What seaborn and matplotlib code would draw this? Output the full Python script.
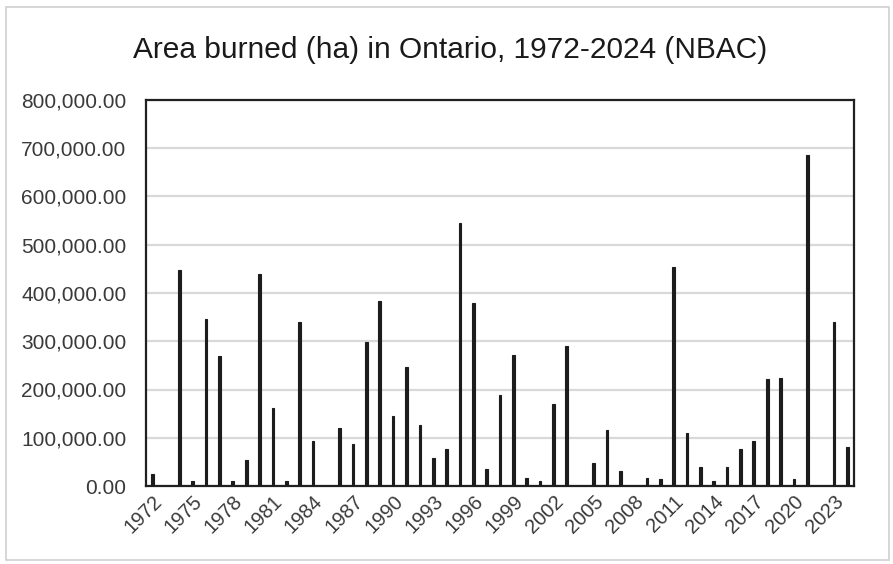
import matplotlib
matplotlib.use("Agg")
import matplotlib.pyplot as plt
from matplotlib.patches import Rectangle
from matplotlib.ticker import FuncFormatter, MultipleLocator
import matplotlib.transforms as mtransforms
import seaborn as sns
import pandas as pd

# Annual area burned in Ontario (hectares), NBAC
years = list(range(1972, 2025))
area_ha = [
    24000, 0, 448000, 10000, 347000, 270000, 10000, 54000, 439000, 162000,
    10000, 339000, 94000, 0, 121000, 88000, 299000, 384000, 146000, 246000,
    126000, 58000, 77000, 546000, 380000, 36000, 188000, 272000, 17000, 11000,
    170000, 291000, 0, 48000, 117000, 32000, 0, 17000, 14000, 454000,
    110000, 39000, 10000, 39000, 77000, 94000, 221000, 224000, 14000, 685000,
    0, 339000, 80000,
]
title = "Area burned (ha) in Ontario, 1972-2024 (NBAC)"

df = pd.DataFrame({"year": [str(y) for y in years], "area": area_ha})

sns.set_theme(style="white")
plt.rcParams["font.family"] = ["Liberation Sans", "DejaVu Sans"]

fig = plt.figure(figsize=(8.93, 5.64), dpi=100)
ax = fig.add_axes([146 / 893, 1 - 486 / 564, (854 - 146) / 893, (486 - 100) / 564])

sns.barplot(data=df, x="year", y="area", color="#1c1c1c", width=0.2,
            saturation=1, ax=ax, zorder=3, edgecolor="#1c1c1c", linewidth=0.8)

ax.set_ylim(0, 800000)
ax.yaxis.set_major_locator(MultipleLocator(100000))
ax.yaxis.set_major_formatter(FuncFormatter(lambda v, p: f"{v:,.2f}"))
ax.grid(axis="y", color="#d9d9d9", linewidth=1.6, zorder=0)
ax.set_axisbelow(True)

# every third year labelled
ticks = list(range(0, len(years), 3))
ax.set_xticks(ticks)
ax.set_xticklabels([str(years[i]) for i in ticks], rotation=45, ha="right",
                   rotation_mode="anchor")
ax.set_xlim(-0.5, len(years) - 0.5)
shift = mtransforms.ScaledTranslation(6 / 100, 0, fig.dpi_scale_trans)
for lbl in ax.get_xticklabels():
    lbl.set_transform(lbl.get_transform() + shift)

ax.tick_params(axis="y", labelsize=15, colors="#3a3a3a", pad=14, length=0)
ax.tick_params(axis="x", labelsize=14.5, colors="#3a3a3a", pad=4, length=0)
ax.set_xlabel("")
ax.set_ylabel("")

for s in ax.spines.values():
    s.set_visible(True)
    s.set_color("#202020")
    s.set_linewidth(1.6)

fig.text(450 / 893, 1 - 50 / 564, title, ha="center", va="center",
         fontsize=21.5, color="#1a1a1a")

fig.patches.append(Rectangle((6 / 893, 4 / 564), 883 / 893, 553 / 564,
                             transform=fig.transFigure, fill=False,
                             edgecolor="#d0d0d0", linewidth=1.2))

fig.savefig("out.png", dpi=100, facecolor="white")
